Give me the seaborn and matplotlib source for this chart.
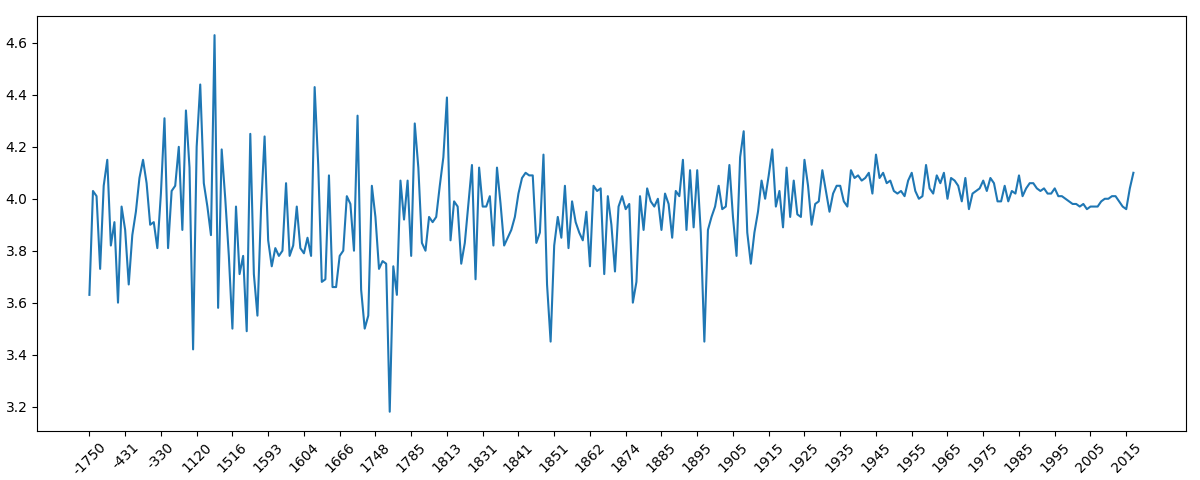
import matplotlib
matplotlib.use("Agg")
import matplotlib.pyplot as plt
import seaborn as sns
import pandas as pd

values = [
    3.63, 4.03, 4.01, 3.73, 4.05, 4.15, 3.82, 3.91, 3.60, 3.97,
    3.88, 3.67, 3.86, 3.95, 4.08, 4.15, 4.06, 3.90, 3.91, 3.81,
    4.02, 4.31, 3.81, 4.03, 4.05, 4.20, 3.88, 4.34, 4.12, 3.42,
    4.20, 4.44, 4.06, 3.97, 3.86, 4.63, 3.58, 4.19, 4.00, 3.78,
    3.50, 3.97, 3.71, 3.78, 3.49, 4.25, 3.71, 3.55, 3.96, 4.24,
    3.84, 3.74, 3.81, 3.78, 3.80, 4.06, 3.78, 3.82, 3.97, 3.81,
    3.79, 3.85, 3.78, 4.43, 4.13, 3.68, 3.69, 4.09, 3.66, 3.66,
    3.78, 3.80, 4.01, 3.98, 3.80, 4.32, 3.65, 3.50, 3.55, 4.05,
    3.93, 3.73, 3.76, 3.75, 3.18, 3.74, 3.63, 4.07, 3.92, 4.07,
    3.78, 4.29, 4.12, 3.83, 3.80, 3.93, 3.91, 3.93, 4.05, 4.16,
    4.39, 3.84, 3.99, 3.97, 3.75, 3.83, 3.98, 4.13, 3.69, 4.12,
    3.97, 3.97, 4.01, 3.82, 4.12, 3.98, 3.82, 3.85, 3.88, 3.93,
    4.02, 4.08, 4.10, 4.09, 4.09, 3.83, 3.87, 4.17, 3.67, 3.45,
    3.82, 3.93, 3.85, 4.05, 3.81, 3.99, 3.91, 3.87, 3.84, 3.95,
    3.74, 4.05, 4.03, 4.04, 3.71, 4.01, 3.90, 3.72, 3.97, 4.01,
    3.96, 3.98, 3.60, 3.68, 4.01, 3.88, 4.04, 3.99, 3.97, 4.00,
    3.88, 4.02, 3.98, 3.85, 4.03, 4.01, 4.15, 3.88, 4.11, 3.89,
    4.11, 3.87, 3.45, 3.88, 3.93, 3.97, 4.05, 3.96, 3.97, 4.13,
    3.93, 3.78, 4.16, 4.26, 3.87, 3.75, 3.87, 3.95, 4.07, 4.00,
    4.09, 4.19, 3.97, 4.03, 3.89, 4.12, 3.93, 4.07, 3.94, 3.93,
    4.15, 4.05, 3.90, 3.98, 3.99, 4.11, 4.03, 3.95, 4.02, 4.05,
    4.05, 3.99, 3.97, 4.11, 4.08, 4.09, 4.07, 4.08, 4.10, 4.02,
    4.17, 4.08, 4.10, 4.06, 4.07, 4.03, 4.02, 4.03, 4.01, 4.07,
    4.10, 4.03, 4.00, 4.01, 4.13, 4.04, 4.02, 4.09, 4.06, 4.10,
    4.00, 4.08, 4.07, 4.05, 3.99, 4.08, 3.96, 4.02, 4.03, 4.04,
    4.07, 4.03, 4.08, 4.06, 3.99, 3.99, 4.05, 3.99, 4.03, 4.02,
    4.09, 4.01, 4.04, 4.06, 4.06, 4.04, 4.03, 4.04, 4.02, 4.02,
    4.04, 4.01, 4.01, 4.00, 3.99, 3.98, 3.98, 3.97, 3.98, 3.96,
    3.97, 3.97, 3.97, 3.99, 4.00, 4.00, 4.01, 4.01, 3.99, 3.97,
    3.96, 4.04, 4.10,
]

tick_labels = [
    "-1750", "-431", "-330", "1120", "1516", "1593", "1604", "1666",
    "1748", "1785", "1813", "1831", "1841", "1851", "1862", "1874",
    "1885", "1895", "1905", "1915", "1925", "1935", "1945", "1955",
    "1965", "1975", "1985", "1995", "2005", "2015",
]
tick_step = 10

df = pd.DataFrame({"idx": range(len(values)), "value": values})

fig, ax = plt.subplots(figsize=(12, 4.8), dpi=100)
sns.lineplot(data=df, x="idx", y="value", ax=ax, color="#1f77b4", linewidth=1.5)
ax.set_xticks(list(range(0, tick_step * len(tick_labels), tick_step)))
ax.set_xticklabels(tick_labels, rotation=45)
ax.set_xlabel("")
ax.set_ylabel("")
fig.subplots_adjust(left=0.031, right=0.988, top=0.966, bottom=0.103)
fig.savefig("out.png", dpi=100)
